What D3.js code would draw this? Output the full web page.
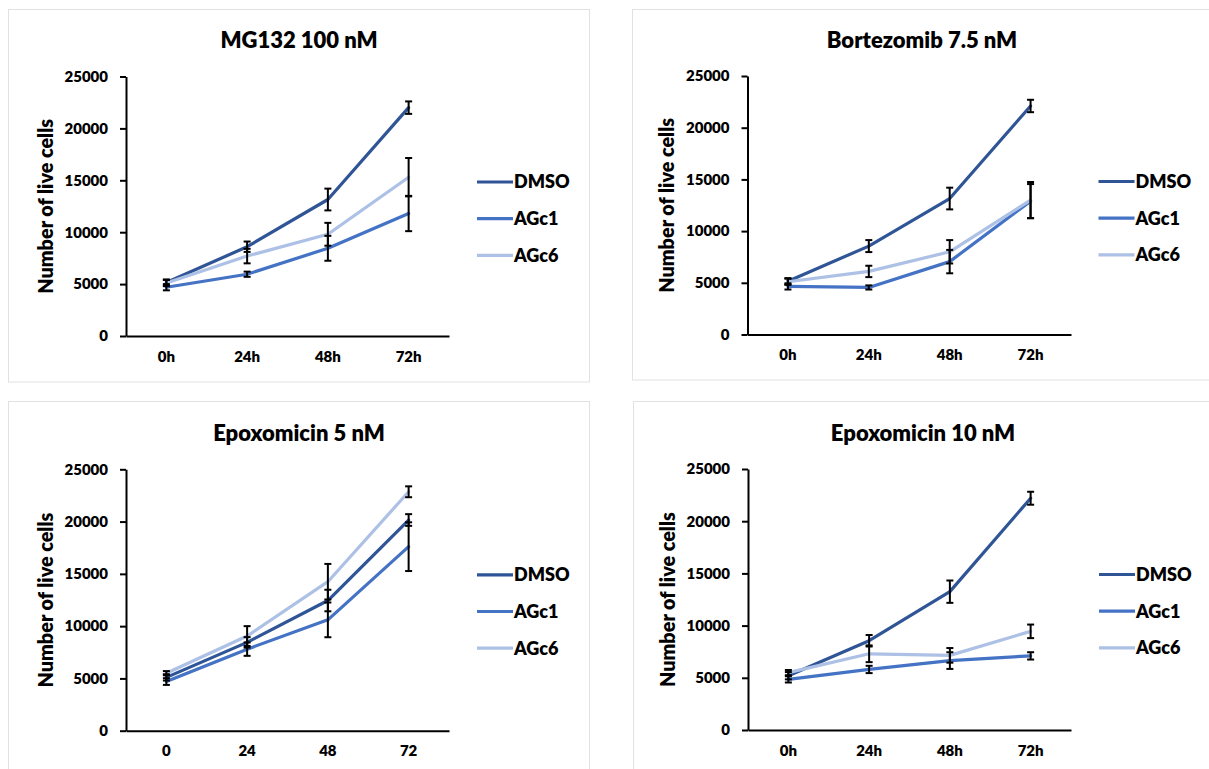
<!DOCTYPE html>
<html>
<head>
<meta charset="utf-8">
<script src="https://cdn.jsdelivr.net/npm/d3@7/dist/d3.min.js"></script>
<style>
  html, body { margin: 0; padding: 0; background: #ffffff; }
  svg { display: block; }
  text { font-family: Lato, "Open Sans", sans-serif; font-weight: 800; fill: #000; }
</style>
</head>
<body>
<svg id="chart" width="1209" height="769"></svg>
<script>
// Time points and tick labels
const timesHours = ["0h", "24h", "48h", "72h"];
const timesPlain = ["0", "24", "48", "72"];
const yTicks = [0, 5000, 10000, 15000, 20000, 25000];
const seriesNames = ["DMSO", "AGc1", "AGc6"];
const seriesColors = ["#2f5597", "#4472c4", "#adc0e5"];

// MG132 100 nM: mean live cells and error
const mg132DMSO = [5150, 8600, 13150, 22000];
const mg132DMSOErr = [300, 500, 1050, 600];
const mg132AGc1 = [4700, 5950, 8450, 11800];
const mg132AGc1Err = [300, 250, 1200, 1700];
const mg132AGc6 = [5100, 7700, 9800, 15300];
const mg132AGc6Err = [300, 700, 1100, 1850];

// Bortezomib 7.5 nM
const bortDMSO = [5150, 8550, 13150, 22100];
const bortDMSOErr = [300, 580, 1050, 600];
const bortAGc1 = [4650, 4550, 7050, 12900];
const bortAGc1Err = [300, 200, 1130, 1650];
const bortAGc6 = [5100, 6100, 8000, 13000];
const bortAGc6Err = [300, 550, 1130, 1750];

// Epoxomicin 5 nM
const epo5DMSO = [5100, 8450, 12450, 20150];
const epo5DMSOErr = [300, 500, 1030, 560];
const epo5AGc1 = [4700, 7800, 10600, 17600];
const epo5AGc1Err = [320, 640, 1660, 2330];
const epo5AGc6 = [5500, 9050, 14250, 22850];
const epo5AGc6Err = [200, 950, 1700, 520];

// Epoxomicin 10 nM
const epo10DMSO = [5200, 8550, 13250, 22200];
const epo10DMSOErr = [350, 550, 1070, 620];
const epo10AGc1 = [4850, 5800, 6650, 7100];
const epo10AGc1Err = [300, 350, 800, 350];
const epo10AGc6 = [5500, 7300, 7150, 9450];
const epo10AGc6Err = [250, 800, 700, 650];

// Panel layout: plot rectangle, frame, title
const panels = [
  { title: "MG132 100 nM", labels: timesHours,
    means: [mg132DMSO, mg132AGc1, mg132AGc6], errs: [mg132DMSOErr, mg132AGc1Err, mg132AGc6Err],
    left: 126, right: 449, top: 76.5, bottom: 336, titleX: 299, titleY: 47.5,
    frame: [8.5, 9.5, 581, 372.5] },
  { title: "Bortezomib 7.5 nM", labels: timesHours,
    means: [bortDMSO, bortAGc1, bortAGc6], errs: [bortDMSOErr, bortAGc1Err, bortAGc6Err],
    left: 747.5, right: 1071, top: 76, bottom: 334.5, titleX: 922, titleY: 47.5,
    frame: [632.5, 9.5, 590, 370.5] },
  { title: "Epoxomicin 5 nM", labels: timesPlain,
    means: [epo5DMSO, epo5AGc1, epo5AGc6], errs: [epo5DMSOErr, epo5AGc1Err, epo5AGc6Err],
    left: 126, right: 449, top: 469.3, bottom: 730.7, titleX: 299, titleY: 440.5,
    frame: [8.5, 401.5, 581, 380] },
  { title: "Epoxomicin 10 nM", labels: timesHours,
    means: [epo10DMSO, epo10AGc1, epo10AGc6], errs: [epo10DMSOErr, epo10AGc1Err, epo10AGc6Err],
    left: 748, right: 1071, top: 469, bottom: 730, titleX: 923, titleY: 440.5,
    frame: [633.5, 401.5, 590, 380] }
];

const svg = d3.select("#chart");

panels.forEach(p => {
  const g = svg.append("g");

  // light chart-area frame
  g.append("rect")
    .attr("x", p.frame[0]).attr("y", p.frame[1])
    .attr("width", p.frame[2]).attr("height", p.frame[3])
    .attr("fill", "none").attr("stroke", "#e2e2e2").attr("stroke-width", 1);

  const x = d3.scaleBand().domain(p.labels).range([p.left, p.right]);
  const y = d3.scaleLinear().domain([0, 25000]).range([p.bottom, p.top]);

  // title
  g.append("text")
    .attr("x", p.titleX).attr("y", p.titleY)
    .attr("text-anchor", "middle")
    .style("font-size", "22px")
    .text(p.title);

  // y axis
  const yAxis = g.append("g")
    .attr("transform", `translate(${p.left},0)`)
    .call(d3.axisLeft(y).tickValues(yTicks).tickFormat(d3.format("d"))
      .tickSize(6).tickSizeOuter(0).tickPadding(12));
  yAxis.selectAll("text").style("font-size", "15px").style("font-family", "Lato, sans-serif");

  // x axis
  const xAxis = g.append("g")
    .attr("transform", `translate(0,${p.bottom})`)
    .call(d3.axisBottom(x).tickSize(0).tickSizeOuter(0).tickPadding(15));
  xAxis.selectAll("text").style("font-size", "15px").style("font-family", "Lato, sans-serif");

  [yAxis, xAxis].forEach(a => {
    a.select(".domain").attr("stroke", "#000").attr("stroke-width", 2);
    a.selectAll(".tick line").attr("stroke", "#000").attr("stroke-width", 2);
  });

  // y axis title
  g.append("text")
    .attr("transform", `translate(${p.left - 80},${(p.top + p.bottom) / 2}) rotate(-90)`)
    .attr("text-anchor", "middle")
    .attr("dy", "0.35em")
    .style("font-size", "19.8px")
    .text("Number of live cells");

  const cx = i => x(p.labels[i]) + x.bandwidth() / 2;
  const line = d3.line().x((d, i) => cx(i)).y(d => y(d));

  // series lines
  seriesNames.forEach((name, s) => {
    g.append("path")
      .datum(p.means[s])
      .attr("d", line)
      .attr("fill", "none")
      .attr("stroke", seriesColors[s])
      .attr("stroke-width", 3.2)
      .attr("stroke-linejoin", "round")
      .attr("stroke-linecap", "round");
  });

  // error bars
  const capW = 3.5;
  seriesNames.forEach((name, s) => {
    p.means[s].forEach((m, i) => {
      const e = p.errs[s][i];
      const xc = cx(i), y1 = y(m + e), y0 = y(m - e);
      const eb = g.append("g").attr("stroke", "#000").attr("stroke-width", 2);
      eb.append("line").attr("x1", xc).attr("x2", xc).attr("y1", y1).attr("y2", y0);
      eb.append("line").attr("x1", xc - capW).attr("x2", xc + capW).attr("y1", y1).attr("y2", y1);
      eb.append("line").attr("x1", xc - capW).attr("x2", xc + capW).attr("y1", y0).attr("y2", y0);
    });
  });

  // legend
  const lx = p.left + 351, ly = p.top + 105.5, step = 36.7;
  seriesNames.forEach((name, s) => {
    const yy = ly + s * step;
    g.append("line")
      .attr("x1", lx).attr("x2", lx + 36).attr("y1", yy).attr("y2", yy)
      .attr("stroke", seriesColors[s]).attr("stroke-width", 3.2);
    g.append("text")
      .attr("x", lx + 37).attr("y", yy).attr("dy", "0.36em")
      .style("font-size", "18px")
      .text(name);
  });
});
</script>
</body>
</html>
